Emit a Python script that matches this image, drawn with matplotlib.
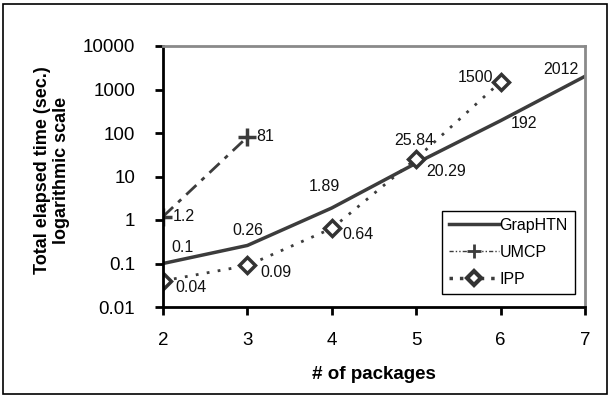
import matplotlib.pyplot as plt
from matplotlib.patches import Rectangle
from matplotlib.lines import Line2D

plt.rcParams['font.family'] = ['Liberation Sans', 'DejaVu Sans']

# data
packages = [2, 3, 4, 5, 6, 7]
graphtn = [0.1, 0.26, 1.89, 20.29, 192, 2012]
umcp_x = [2, 3]
umcp = [1.2, 81]
ipp_x = [2, 3, 4, 5, 6]
ipp = [0.04, 0.09, 0.64, 25.84, 1500]

graphtn_lbl = ['0.1', '0.26', '1.89', '20.29', '192', '2012']
umcp_lbl = ['1.2', '81']
ipp_lbl = ['0.04', '0.09', '0.64', '25.84', '1500']

ytick_vals = [0.01, 0.1, 1, 10, 100, 1000, 10000]
ytick_lbls = ['0.01', '0.1', '1', '10', '100', '1000', '10000']

# label offsets in pixels
graphtn_off = [(20, 16), (0, 15), (-7, 21), (30, -8), (23, -3), (-24, 7)]
umcp_off = [(21, 0), (18, 0)]
ipp_off = [(28, -7), (29, -7), (26, -6), (-2, 18), (-25, 4)]

W, H = 610, 397
fig = plt.figure(figsize=(W / 100, H / 100), dpi=100)
ax = fig.add_axes([163 / W, 1 - 307 / H, 422 / W, 261 / H])

lc = '#3c3c3c'
ax.plot(packages, graphtn, color=lc, lw=2.5)
ax.plot(umcp_x, umcp, color=lc, lw=2, dashes=(5, 2.5, 1.5, 2.5),
        marker='+', markersize=13, mew=2.5)
ax.plot(ipp_x, ipp, color=lc, lw=2, linestyle=(0, (1, 3)),
        marker='D', markersize=8, mfc='white', mec='#333333', mew=2.5)

for x, y, t, o in zip(packages, graphtn, graphtn_lbl, graphtn_off):
    ax.annotate(t, (x, y), xytext=o, textcoords='offset pixels',
                ha='center', va='center', fontsize=11.5, color='#111111')
for x, y, t, o in zip(umcp_x, umcp, umcp_lbl, umcp_off):
    ax.annotate(t, (x, y), xytext=o, textcoords='offset pixels',
                ha='center', va='center', fontsize=11.5, color='#111111')
for x, y, t, o in zip(ipp_x, ipp, ipp_lbl, ipp_off):
    ax.annotate(t, (x, y), xytext=o, textcoords='offset pixels',
                ha='center', va='center', fontsize=11.5, color='#111111')

ax.set_yscale('log')
ax.set_xlim(2, 7)
ax.set_ylim(0.01, 10000)
ax.set_yticks(ytick_vals)
ax.set_yticklabels(ytick_lbls)
ax.minorticks_off()
ax.set_xticks(packages)
ax.tick_params(axis='both', labelsize=13.5, width=2, length=6, direction='out', colors='black')
ax.tick_params(axis='y', pad=14)
ax.tick_params(axis='x', pad=12)

for s in ['left', 'bottom']:
    ax.spines[s].set_linewidth(2)
    ax.spines[s].set_color('black')
for s in ['top', 'right']:
    ax.spines[s].set_linewidth(2)
    ax.spines[s].set_color('#8a8a8a')

ax.set_xlabel('# of packages', fontsize=13.5, fontweight='bold', labelpad=12)
fig.text(52 / W, 1 - 170 / H, 'Total elapsed time (sec.)\nlogarithmic scale',
         rotation=90, ha='center', va='center', fontsize=13, fontweight='bold',
         linespacing=1.1)

# legend handles (the UMCP sample is drawn thin in the original)
handles = [
    Line2D([], [], color=lc, lw=2.5),
    Line2D([], [], color=lc, lw=1, dashes=(3, 1.5, 1, 1.5, 1, 1.5), marker='+',
           markersize=10, mew=2),
    Line2D([], [], color=lc, lw=2.5, linestyle=(0, (1, 2)), marker='D', markersize=7,
           mfc='white', mec='#333333', mew=3),
]
leg = ax.legend(handles, ['GrapHTN', 'UMCP', 'IPP'], loc='lower right',
                bbox_to_anchor=(0.976, 0.05), borderaxespad=0,
                fontsize=11.5, handlelength=3.1, handletextpad=0.05,
                labelspacing=0.75, fancybox=False, framealpha=1, borderpad=0.45)
leg.get_frame().set_edgecolor('black')
leg.get_frame().set_linewidth(1)

fig.patches.append(Rectangle((3 / W, 3 / H), 604 / W, 390 / H, transform=fig.transFigure,
                             fill=False, edgecolor='black', lw=1.2))

fig.savefig('out.png', dpi=100)
